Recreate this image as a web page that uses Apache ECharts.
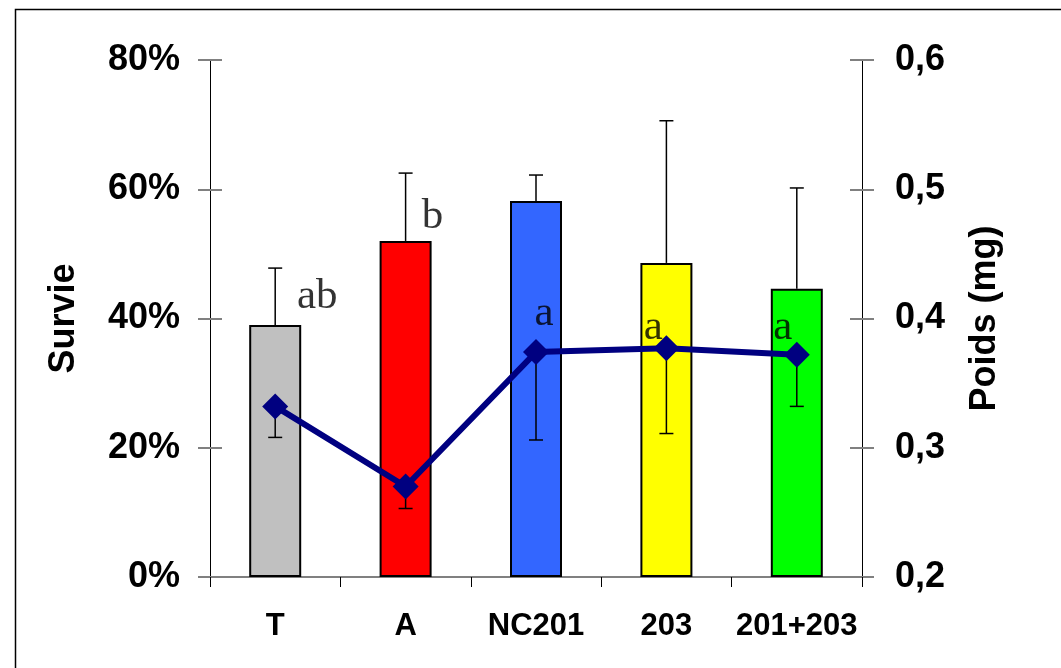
<!DOCTYPE html>
<html>
<head>
<meta charset="utf-8">
<script src="https://cdn.jsdelivr.net/npm/echarts@6/dist/echarts.min.js"></script>
<style>
html,body{margin:0;padding:0;background:#fff;}
#chart{width:1061px;height:668px;}
</style>
</head>
<body>
<div id="chart"></div>
<script>
// data
var categories = ['T', 'A', 'NC201', '203', '201+203'];
var barColors = ['#C0C0C0', '#FF0000', '#3366FF', '#FFFF00', '#00FF00'];
var survie = [39.0, 52.0, 58.2, 48.6, 44.6];          // %
var survieHigh = [47.8, 62.5, 62.2, 70.6, 60.2];      // top of error bar
var poids = [0.332, 0.270, 0.374, 0.377, 0.372];      // mg
var poidsLow = [0.308, 0.253, 0.306, 0.311, 0.332];   // bottom of error bar
var letters = ['ab', 'b', 'a', 'a', 'a'];
var letterLevel = [43.3, 55.7, 40.8, 38.5, 38.5];     // % on left axis
var letterShift = [42, 27, 8, -13, -14];              // px, horizontal

var chart = echarts.init(document.getElementById('chart'));

function errorBars() {
    return function (params, api) {
        var i = api.value(0);
        var p1 = api.coord([i, api.value(1)]);
        var p2 = api.coord([i, api.value(2)]);
        var st = {stroke: '#000', lineWidth: 1.5};
        return {
            type: 'group',
            children: [
                {type: 'line', shape: {x1: p1[0], y1: p1[1], x2: p2[0], y2: p2[1]}, style: st},
                {type: 'line', shape: {x1: p2[0] - 7, y1: p2[1], x2: p2[0] + 7, y2: p2[1]}, style: st}
            ]
        };
    };
}

var tickFont = {fontFamily: 'Liberation Sans, Arial, sans-serif', fontWeight: 'bold', fontSize: 36, color: '#000'};

var options = {
    animation: false,
    backgroundColor: '#fff',
    grid: {left: 210, right: 199, top: 60, bottom: 91},
    graphic: [{
        type: 'rect', left: 13, top: 7,
        shape: {width: 1100, height: 700},
        style: {fill: 'none', stroke: '#000', lineWidth: 1.5}
    }],
    xAxis: {
        type: 'category',
        data: categories,
        boundaryGap: true,
        axisLine: {lineStyle: {color: '#808080', width: 2}},
        axisTick: {show: true, inside: false, length: 10, lineStyle: {color: '#000', width: 1}},
        axisLabel: {interval: 0, margin: 34, fontFamily: 'Liberation Sans, Arial, sans-serif', fontWeight: 'bold', fontSize: 31, color: '#000'}
    },
    yAxis: [
        {
            type: 'value', position: 'left', min: 0, max: 80, interval: 20,
            name: 'Survie', nameLocation: 'middle', nameGap: 128,
            nameTextStyle: tickFont,
            axisLine: {show: true, lineStyle: {color: '#000', width: 1}},
            axisTick: {show: true, length: 12, lineStyle: {color: '#808080', width: 2}},
            axisLabel: Object.assign({margin: 30, formatter: '{value}%'}, tickFont),
            splitLine: {show: false}
        },
        {
            type: 'value', position: 'right', min: 0.2, max: 0.6, interval: 0.1,
            name: 'Poids (mg)', nameLocation: 'middle', nameGap: 105,
            nameTextStyle: tickFont,
            axisLine: {show: true, lineStyle: {color: '#000', width: 1}},
            axisTick: {show: true, length: 12, lineStyle: {color: '#808080', width: 2}},
            axisLabel: Object.assign({margin: 33, formatter: function (v) { return v.toFixed(1).replace('.', ','); }}, tickFont),
            splitLine: {show: false}
        },
        {
            type: 'value', position: 'left', min: 0, max: 80, interval: 20,
            axisLine: {show: false}, axisLabel: {show: false}, splitLine: {show: false},
            axisTick: {show: true, inside: true, length: 12, lineStyle: {color: '#808080', width: 2}}
        },
        {
            type: 'value', position: 'right', min: 0.2, max: 0.6, interval: 0.1,
            axisLine: {show: false}, axisLabel: {show: false}, splitLine: {show: false},
            axisTick: {show: true, inside: true, length: 12, lineStyle: {color: '#808080', width: 2}}
        }
    ],
    series: [
        {
            type: 'bar',
            yAxisIndex: 0,
            barWidth: 52,
            data: survie.map(function (v, i) {
                return {value: v, itemStyle: {color: barColors[i], borderColor: '#000', borderWidth: 2}};
            }),
            z: 2
        },
        {
            type: 'custom',
            yAxisIndex: 0,
            renderItem: errorBars(),
            data: survie.map(function (v, i) { return [i, v, survieHigh[i]]; }),
            z: 3
        },
        {
            type: 'scatter',
            yAxisIndex: 0,
            symbolSize: 0,
            silent: true,
            data: letters.map(function (t, i) {
                return {
                    value: [i, letterLevel[i]],
                    label: {
                        show: true, position: 'inside', formatter: t,
                        offset: [letterShift[i], 0],
                        fontFamily: 'Liberation Serif, Times New Roman, serif',
                        fontSize: 43, color: '#000', textBorderWidth: 0
                    }
                };
            }),
            z: 4
        },
        {
            type: 'custom',
            yAxisIndex: 1,
            renderItem: errorBars(),
            data: poids.map(function (v, i) { return [i, v, poidsLow[i]]; }),
            z: 5
        },
        {
            type: 'line',
            yAxisIndex: 1,
            data: poids,
            symbol: 'diamond',
            symbolSize: 26,
            lineStyle: {color: '#000080', width: 6},
            itemStyle: {color: '#000080'},
            z: 6
        }
    ]
};
chart.setOption(options);
</script>
</body>
</html>
